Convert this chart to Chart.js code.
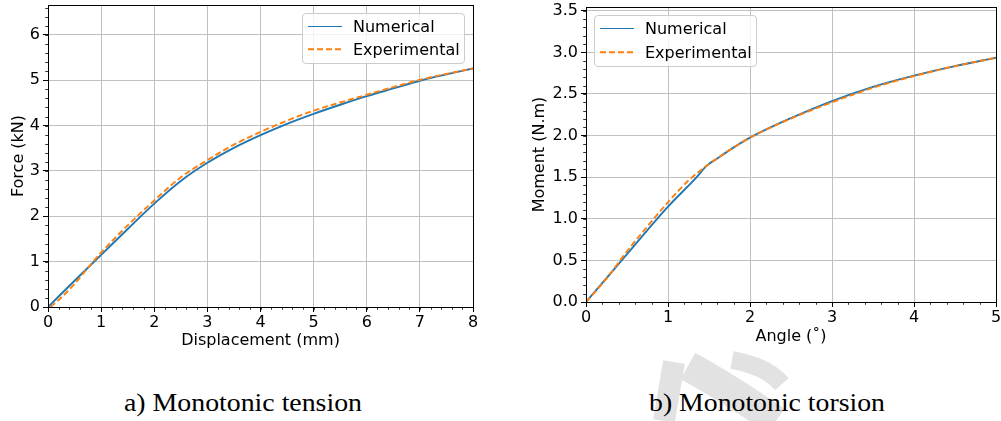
<!DOCTYPE html>
<html><head><meta charset="utf-8">
<script src="https://cdn.jsdelivr.net/npm/chart.js@4/dist/chart.umd.min.js"></script>
<style>
html,body{margin:0;padding:0;background:#fff;}
body{width:1001px;height:421px;position:relative;overflow:hidden;font-family:"DejaVu Sans",sans-serif;}
canvas{position:absolute;top:0;}
#c1{left:0;} #c2{left:500px;}
.legend{position:absolute;border:1px solid #cccccc;border-radius:4px;background:rgba(255,255,255,0.8);font:16px "DejaVu Sans";color:#000;box-sizing:border-box;}
.legend .row{position:absolute;left:0;height:19px;line-height:19px;white-space:nowrap;}
.legend .smp{position:absolute;top:9px;width:34px;height:0;}
.legend .txt{position:absolute;top:0;}
svg{position:absolute;left:0;top:0;}
</style></head>
<body>
<svg width="1001" height="421" id="bg">
  <g fill="none" stroke="#e2e2e2" stroke-linecap="butt">
    <path d="M674,362 L664,421" stroke-width="22"/>
    <path d="M688,366 Q728,388 776,421" stroke-width="30"/>
    <path d="M732,360 Q766,366 782,384" stroke-width="18"/>
  </g>
  <g font-family="Liberation Serif, serif" font-size="25" fill="#000" text-anchor="middle">
    <text x="243" y="411" textLength="238" lengthAdjust="spacingAndGlyphs">a) Monotonic tension</text>
    <text x="767" y="411" textLength="236" lengthAdjust="spacingAndGlyphs">b) Monotonic torsion</text>
  </g>
</svg>
<canvas id="c1" width="500" height="360"></canvas>
<canvas id="c2" width="501" height="360"></canvas>

<div class="legend" style="left:302px;top:13px;width:163px;height:51px;">
  <div class="row" style="top:3px;"><div class="smp" style="left:5px;border-top:1.9px solid #1f77b4;"></div><div class="txt" style="left:50px;">Numerical</div></div>
  <div class="row" style="top:26px;"><div class="smp" style="left:5px;"><svg width="34" height="3" style="top:-1px"><line x1="0" y1="1.2" x2="34" y2="1.2" stroke="#ff7f0e" stroke-width="1.9" stroke-dasharray="6 3"/></svg></div><div class="txt" style="left:50px;">Experimental</div></div>
</div>
<div class="legend" style="left:594px;top:15px;width:163px;height:52px;">
  <div class="row" style="top:3px;"><div class="smp" style="left:5px;border-top:1.9px solid #1f77b4;"></div><div class="txt" style="left:50px;">Numerical</div></div>
  <div class="row" style="top:27px;"><div class="smp" style="left:5px;"><svg width="34" height="3" style="top:-1px"><line x1="0" y1="1.2" x2="34" y2="1.2" stroke="#ff7f0e" stroke-width="1.9" stroke-dasharray="6 3"/></svg></div><div class="txt" style="left:50px;">Experimental</div></div>
</div>

<script>
// ---- data ----
const tensionNumX = [0, 0.5, 1, 1.5, 2, 2.5, 3, 3.5, 4, 4.5, 5, 5.5, 6, 6.5, 7, 7.5, 8];
const tensionNumY = [0, 0.58, 1.15, 1.72, 2.28, 2.78, 3.18, 3.51, 3.79, 4.04, 4.26, 4.46, 4.65, 4.82, 4.99, 5.13, 5.26];
const tensionExpX = [0.05, 0.25, 0.5, 0.75, 1, 1.5, 2, 2.5, 3, 3.5, 4, 4.5, 5, 5.5, 6, 6.5, 7, 7.5, 8];
const tensionExpY = [0, 0.21, 0.51, 0.86, 1.20, 1.80, 2.35, 2.86, 3.24, 3.58, 3.86, 4.11, 4.33, 4.51, 4.68, 4.85, 5.01, 5.14, 5.26];

const torsionNumX = [0, 0.5, 1, 1.35, 1.47, 1.6, 1.75, 2, 2.5, 3, 3.5, 4, 4.5, 5];
const torsionNumY = [0, 0.575, 1.146, 1.5, 1.636, 1.725, 1.825, 1.975, 2.21, 2.415, 2.585, 2.72, 2.835, 2.935];
const torsionExpX = [0, 0.25, 0.5, 0.75, 1, 1.25, 1.47, 1.6, 1.75, 2, 2.5, 3, 3.5, 4, 4.5, 5];
const torsionExpY = [0, 0.28, 0.61, 0.91, 1.20, 1.46, 1.636, 1.725, 1.825, 1.975, 2.205, 2.40, 2.575, 2.715, 2.835, 2.935];

const tensionXRange = [0, 8];
const tensionYRange = [0, 6.66];
const torsionXRange = [0, 5];
const torsionYRange = [0, 3.545];

const labels1 = {x: 'Displacement (mm)', y: 'Force (kN)'};
const labels2 = {x: 'Angle (\u02DA)', y: 'Moment (N.m)'};
const seriesNames = ['Numerical', 'Experimental'];

const toPts = (xs, ys) => xs.map((x, i) => ({x, y: ys[i]}));

Chart.defaults.font.family = 'DejaVu Sans';
Chart.defaults.font.size = 16;
Chart.defaults.color = '#000';

const frameAndMinor = {
  id: 'frameAndMinor',
  afterDatasetsDraw(chart, args, opts) {
    const ctx = chart.ctx, a = chart.chartArea;
    const xs = chart.scales.x, ys = chart.scales.y;
    ctx.save();
    ctx.strokeStyle = '#000';
    ctx.lineWidth = 0.8;
    ctx.beginPath();
    const nx = Math.round((xs.max - xs.min) / opts.xStep);
    for (let i = 0; i <= nx; i++) {
      const v = xs.min + i * opts.xStep;
      const p = Math.round(xs.getPixelForValue(v)) + 0.5;
      ctx.moveTo(p, a.bottom); ctx.lineTo(p, a.bottom + 2.8);
    }
    const ny = Math.floor((ys.max - ys.min) / opts.yStep + 1e-6);
    for (let i = 0; i <= ny; i++) {
      const v = ys.min + i * opts.yStep;
      const p = Math.round(ys.getPixelForValue(v)) + 0.5;
      ctx.moveTo(a.left, p); ctx.lineTo(a.left - 2.8, p);
    }
    ctx.stroke();
    ctx.lineWidth = 1;
    ctx.strokeRect(Math.round(a.left) + 0.5, Math.round(a.top) + 0.5,
                   Math.round(a.right) - Math.round(a.left), Math.round(a.bottom) - Math.round(a.top));
    ctx.restore();
  }
};

function makeChart(id, d, cfg) {
  return new Chart(document.getElementById(id), {
    type: 'line',
    data: {
      datasets: [
        {label: seriesNames[0], data: toPts(d.nx, d.ny), borderColor: '#1f77b4', borderWidth: 1.9, order: 1,
         pointRadius: 0, cubicInterpolationMode: 'monotone', fill: false},
        {label: seriesNames[1], data: toPts(d.ex, d.ey), borderColor: '#ff7f0e', borderWidth: 1.9, order: 0,
         borderDash: [6, 3], pointRadius: 0, cubicInterpolationMode: 'monotone', fill: false}
      ]
    },
    options: {
      responsive: false, animation: false, devicePixelRatio: 1,
      layout: {padding: cfg.pad},
      plugins: {legend: {display: false}, tooltip: {enabled: false},
                frameAndMinor: {xStep: cfg.xMinor, yStep: cfg.yMinor}},
      scales: {
        x: {type: 'linear', min: cfg.xr[0], max: cfg.xr[1],
            ticks: {stepSize: 1, autoSkip: false, maxRotation: 0, padding: 1, includeBounds: false, color: '#000'},
            grid: {color: '#c0c0c0', lineWidth: 1, tickColor: '#000', tickLength: 5, tickWidth: 1},
            border: {display: false},
            title: {display: true, text: cfg.labels.x, color: '#000', padding: {top: 0, bottom: cfg.xtPad}},
            afterFit(s) { s.height = cfg.xh; s.paddingLeft = 0; s.paddingRight = 0; }},
        y: {type: 'linear', min: cfg.yr[0], max: cfg.yr[1],
            ticks: {stepSize: cfg.yStep, autoSkip: false, padding: 3, includeBounds: false, color: '#000',
                    callback: cfg.yfmt},
            grid: {color: '#c0c0c0', lineWidth: 1, tickColor: '#000', tickLength: 5, tickWidth: 1},
            border: {display: false},
            title: {display: true, text: cfg.labels.y, color: '#000', padding: {top: cfg.ytPad, bottom: 0}},
            afterFit(s) { s.width = cfg.yw; s.paddingTop = 0; s.paddingBottom = 0; }}
      }
    },
    plugins: [frameAndMinor]
  });
}

makeChart('c1', {nx: tensionNumX, ny: tensionNumY, ex: tensionExpX, ey: tensionExpY}, {
  pad: {left: 0, top: 5, right: 27, bottom: 0}, xr: tensionXRange, yr: tensionYRange,
  yStep: 1, xMinor: 0.2, yMinor: 0.2, xh: 53, yw: 48, xtPad: 9.4, ytPad: 9,
  labels: labels1, yfmt: v => String(v)
});
makeChart('c2', {nx: torsionNumX, ny: torsionNumY, ex: torsionExpX, ey: torsionExpY}, {
  pad: {left: 0, top: 7, right: 5, bottom: 0}, xr: torsionXRange, yr: torsionYRange,
  yStep: 0.5, xMinor: 0.2, yMinor: 0.1, xh: 58, yw: 86, xtPad: 13.4, ytPad: 30.4,
  labels: labels2, yfmt: v => v.toFixed(1)
});
</script>
</body></html>
